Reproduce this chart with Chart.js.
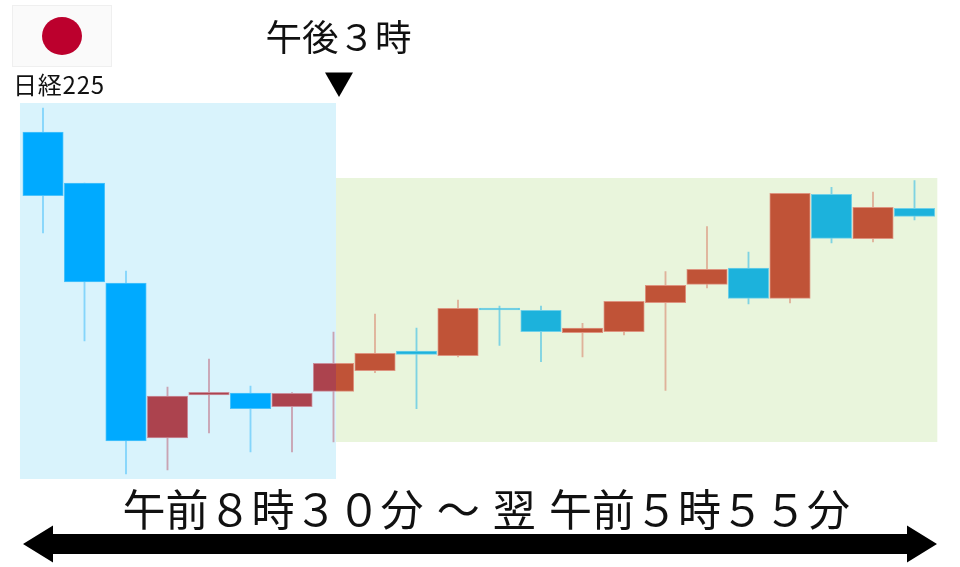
<!DOCTYPE html>
<html lang="ja">
<head>
<meta charset="utf-8">
<title>日経225</title>
<script src="https://cdn.jsdelivr.net/npm/chart.js@4/dist/chart.umd.min.js"></script>
<style>
html,body{margin:0;padding:0;background:#fff;}
#wrap{position:relative;width:960px;height:567px;overflow:hidden;font-family:"Noto Sans CJK JP","Noto Sans",sans-serif;color:#111;}
#myChart{position:absolute;left:0;top:0;}
.txt{position:absolute;white-space:pre;line-height:1;}
#flag{position:absolute;left:12px;top:5px;width:98px;height:60px;background:#fafafa;border:1px solid #efefef;}
#flag div{position:absolute;left:29px;top:11px;width:40px;height:38px;border-radius:50%;background:#bc002d;}
#marks{position:absolute;left:0;top:0;}
</style>
</head>
<body>
<div id="wrap">
  <canvas id="myChart" width="960" height="567"></canvas>
  <div id="flag"><div></div></div>
  <div class="txt" id="name" style="left:13px;top:72px;font-size:24px;letter-spacing:.8px;">日経225</div>
  <div class="txt" id="close" style="left:265.5px;top:18px;font-size:36.5px;">午後３時</div>
  <div class="txt" id="range" style="left:122.5px;top:486px;font-size:43px;word-spacing:3.5px;">午前８時３０分 ～ 翌 午前５時５５分</div>
  <svg id="marks" width="960" height="567">
    <polygon points="325,72.5 353,72.5 339,97" fill="#000"/>
    <polygon points="23,544 53,525.5 53,534 907,534 907,525.5 937,544 907,562.5 907,554 53,554 53,562.5" fill="#000"/>
  </svg>
</div>
<script>
const opens =[348,297,197,42,85,87,73.3,88.7,109.3,129,124.3,172,169.7,147.3,148.3,177.3,195.7,212,181.7,285.7,241.3,271.7];
const closes=[284.3,198,39,84,87.7,71.3,86.7,116.7,126.7,125.7,171.7,170,148.3,152,178.7,194.7,210.7,181.7,286.7,241.7,272.7,263.7];
const highs =[372,297,209,93,121,94,87.3,148,166,152,180,174,174,156.7,178.7,208.3,253.3,228,286.7,292.7,288,299.3];
const lows  =[247,139,6,10,47,28,28,38,107.3,71.3,123,134.7,118.3,123,145,89.7,192,176,177,237,238,260];
const labels=opens.map((o,i)=>i+1);

// shaded sessions, in candle index / price units
const sessionChange=7.06;
const dayPanel=[-0.555,sessionChange,1,377];
const nightPanel=[sessionChange,21.55,38,302];

const upColors={body:["#ac434e","#c05337"],edge:["#c98f9d","#dd9480"],wick:["#c9a3b3","#dfb29a"]};
const downColors={body:["#00aaff","#1cb2dc"],edge:["#4cc3fb","#6fd0e8"],wick:["#84d5fb","#7ed3e2"]};

// hard stop at the 3pm line, so a candle sitting across it takes both colours
function paint(chart,pair){
    let area=chart.chartArea;
    if(!area) return pair[0];
    let stop=(chart.scales.x.getPixelForValue(sessionChange)-area.left)/(area.right-area.left);
    let g=chart.ctx.createLinearGradient(area.left,0,area.right,0);
    g.addColorStop(0,pair[0]);
    g.addColorStop(stop,pair[0]);
    g.addColorStop(stop,pair[1]);
    g.addColorStop(1,pair[1]);
    return g;
}

function colorOf(c,part){
    let i=c.dataIndex;
    let set=closes[i]>=opens[i]?upColors:downColors;
    return paint(c.chart,set[part]);
}

const panels={
    id:"panels",
    beforeDatasetsDraw(chart){
        let x=chart.scales.x, y=chart.scales.y, ctx=chart.ctx;
        let draw=(p,color)=>{
            ctx.fillStyle=color;
            ctx.fillRect(x.getPixelForValue(p[0]),y.getPixelForValue(p[3]),
                x.getPixelForValue(p[1])-x.getPixelForValue(p[0]),y.getPixelForValue(p[2])-y.getPixelForValue(p[3]));
        };
        draw(nightPanel,"#e9f5dc");
        draw(dayPanel,"#d9f3fc");
    }
};

new Chart(document.getElementById("myChart"),{
    type:"bar",
    data:{
        labels:labels,
        datasets:[
            {
                data:lows.map((l,i)=>[l,highs[i]]),
                barThickness:1.2,
                backgroundColor:c=>colorOf(c,"wick"),
                borderWidth:0,
                grouped:false,
                order:2
            },
            {
                data:opens.map((o,i)=>[Math.min(o,closes[i]),Math.max(o,closes[i])]),
                barThickness:40.5,
                backgroundColor:c=>colorOf(c,"body"),
                borderColor:c=>colorOf(c,"edge"),
                borderWidth:1,
                borderSkipped:false,
                grouped:false,
                order:1
            }
        ]
    },
    options:{
        responsive:false,
        animation:false,
        layout:{padding:{left:22.25,right:24.75,top:100,bottom:87}},
        plugins:{legend:{display:false},tooltip:{enabled:false}},
        scales:{
            x:{display:false},
            y:{display:false,min:0,max:380}
        }
    },
    plugins:[panels]
});
</script>
</body>
</html>
